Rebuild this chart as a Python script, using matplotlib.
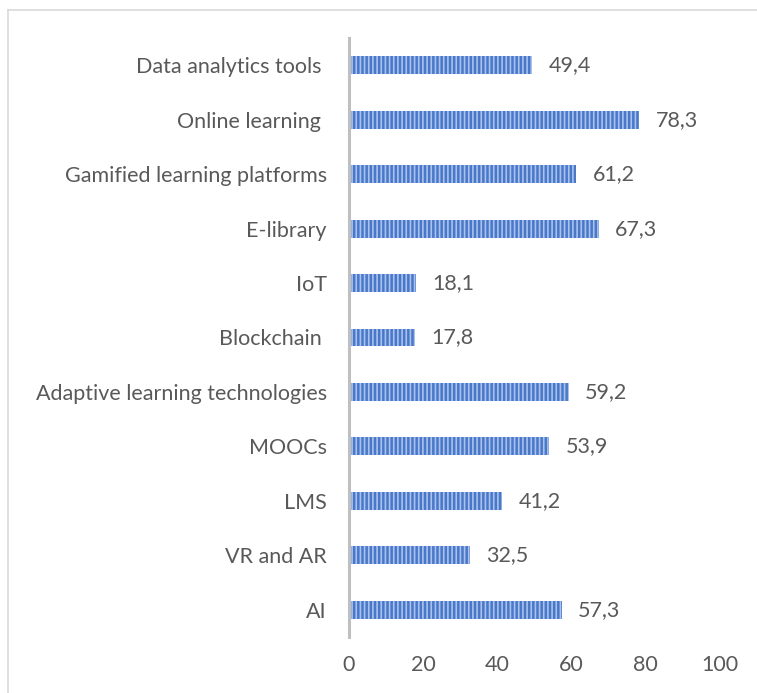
import matplotlib
matplotlib.use("Agg")
import matplotlib.pyplot as plt
from matplotlib.lines import Line2D

categories = ["AI", "VR and AR", "LMS", "MOOCs", "Adaptive learning technologies",
              "Blockchain ", "IoT", "E-library", "Gamified learning platforms",
              "Online learning ", "Data analytics tools "]
values = [57.3, 32.5, 41.2, 53.9, 59.2, 17.8, 18.1, 67.3, 61.2, 78.3, 49.4]
xticks = [0, 20, 40, 60, 80, 100]

plt.rcParams['font.family'] = ['Lato', 'DejaVu Sans']
plt.rcParams['hatch.linewidth'] = 1.2
text_color = '#595959'

fig = plt.figure(figsize=(7.57, 6.93), dpi=100)
ax = fig.add_axes([0.461, 0.081, 0.490, 0.864])

ypos = list(range(len(categories)))
bars = ax.barh(ypos, values, height=0.33, color='#4A78C8', edgecolor='#A9C1EC',
               hatch='||||', linewidth=0)

for y, v in zip(ypos, values):
    ax.annotate(f"{v:.1f}".replace('.', ','), (v, y), xytext=(12, 0),
                textcoords='offset points', va='center', ha='left',
                fontsize=15.5, color=text_color)

ax.set_xlim(0, 100)
ax.set_ylim(-0.5, len(categories) - 0.5)
ax.set_xticks(xticks)
ax.set_yticks(ypos)
ax.set_yticklabels(categories)
ax.tick_params(axis='both', length=0, labelsize=15.5, labelcolor=text_color)
ax.tick_params(axis='x', pad=13)
ax.tick_params(axis='y', pad=16)
for s in ['top', 'right', 'bottom']:
    ax.spines[s].set_visible(False)
ax.spines['left'].set_color('#BFBFBF')
ax.spines['left'].set_linewidth(2.2)

# chart border (left and top edges visible)
fig.add_artist(Line2D([0.011, 0.011], [0, 0.986], transform=fig.transFigure,
                      color='#D9D9D9', lw=1.2))
fig.add_artist(Line2D([0.011, 1.0], [0.986, 0.986], transform=fig.transFigure,
                      color='#D9D9D9', lw=1.2))

fig.savefig("out.png", dpi=100)
